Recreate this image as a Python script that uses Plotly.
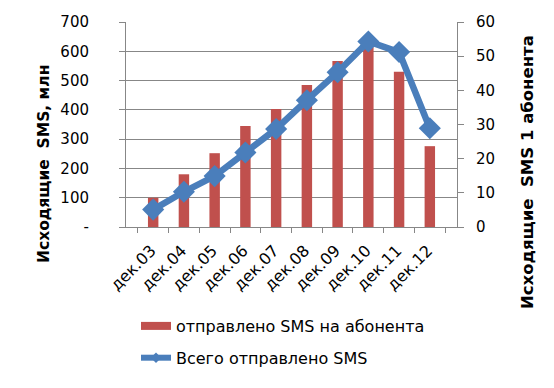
import plotly.graph_objects as go

categories = ["дек.03", "дек.04", "дек.05", "дек.06", "дек.07", "дек.08", "дек.09", "дек.10", "дек.11", "дек.12"]
bar_values = [100, 180, 252, 345, 403, 485, 567, 620, 530, 276]
line_values = [5.1, 10.3, 14.9, 21.8, 28.7, 37.1, 45.3, 54.3, 51.2, 28.9]
left_ticks = [0, 100, 200, 300, 400, 500, 600, 700]
left_ticktext = ["-", "100", "200", "300", "400", "500", "600", "700"]
right_ticks = [0, 10, 20, 30, 40, 50, 60]

FONT = "DejaVu Sans"
GRID = "#878787"
BAR_C = "#c0504d"
LINE_C = "#4a7ebb"

OFF = 8  # page body margin
W, H = 554 - OFF, 388 - OFF
pl, pr, pt, pb = 126 - OFF, 457 - OFF, 22 - OFF, 227 - OFF
def cx(px):
    return (px - OFF - pl) / (pr - pl)
def cy(py):
    return (pb - (py - OFF)) / (pb - pt)

fig = go.Figure()
fig.add_trace(go.Bar(
    x=categories, y=bar_values, name="отправлено SMS на абонента",
    marker=dict(color=BAR_C, line=dict(width=0)), yaxis="y", showlegend=False,
))
fig.add_trace(go.Scatter(
    x=categories, y=line_values, name="Всего отправлено SMS",
    mode="lines+markers", yaxis="y2", showlegend=False,
    line=dict(color=LINE_C, width=6.5),
    marker=dict(symbol="diamond", size=17, color=LINE_C),
))
# legend swatches
fig.add_trace(go.Scatter(
    x=[None], y=[None], mode="lines", name="отправлено SMS на абонента",
    line=dict(color=BAR_C, width=8), legendgroup="a", showlegend=True,
))
fig.add_trace(go.Scatter(
    x=[None], y=[None], mode="lines+markers", name="Всего отправлено SMS",
    line=dict(color=LINE_C, width=6), marker=dict(symbol="diamond", size=8, color=LINE_C),
    legendgroup="b", showlegend=True, yaxis="y2",
))

fig.update_layout(
    width=W, height=H,
    margin=dict(l=pl, r=W - pr, t=pt, b=H - pb, autoexpand=False),
    paper_bgcolor="white", plot_bgcolor="white",
    font=dict(family=FONT, size=15, color="black"),
    bargap=0.66,
    showlegend=True,
    legend=dict(
        x=cx(136), y=cy(309),
        xanchor="left", yanchor="top",
        font=dict(family=FONT, size=16, color="black"),
        tracegroupgap=8, bgcolor="rgba(0,0,0,0)",
    ),
    xaxis=dict(
        type="category", tickangle=-45, ticks="outside", tickson="boundaries",
        ticklen=5, tickcolor=GRID, showline=True, linecolor=GRID, linewidth=1,
        showgrid=False, tickfont=dict(family=FONT, size=16), automargin=False,
        ticklabelstandoff=7, ticklabelshift=-2,
    ),
    yaxis=dict(
        range=[0, 700], tickvals=left_ticks, ticktext=left_ticktext,
        showgrid=True, gridcolor=GRID, gridwidth=1,
        showline=True, linecolor=GRID, ticks="outside", ticklen=6, tickcolor=GRID,
        zeroline=False, tickfont=dict(family=FONT, size=15), automargin=False,
        ticklabelstandoff=27,
    ),
    yaxis2=dict(
        range=[0, 60], tickvals=right_ticks, overlaying="y", side="right",
        showgrid=False, showline=True, linecolor=GRID, ticks="outside", ticklen=6,
        tickcolor=GRID, zeroline=False, tickfont=dict(family=FONT, size=15), automargin=False,
        ticklabelstandoff=9,
    ),
    annotations=[
        dict(text="<b>Исходящие  SMS, млн</b>", textangle=-90, xref="paper", yref="paper",
             x=cx(44), y=cy(164), showarrow=False,
             font=dict(family=FONT, size=15.5, color="black"), xanchor="center", yanchor="middle"),
        dict(text="<b>Исходящие  SMS 1 абонента</b>", textangle=-90, xref="paper", yref="paper",
             x=cx(527), y=cy(172), showarrow=False,
             font=dict(family=FONT, size=16.5, color="black"), xanchor="center", yanchor="middle"),
    ],
)

fig.write_html("out.html")
